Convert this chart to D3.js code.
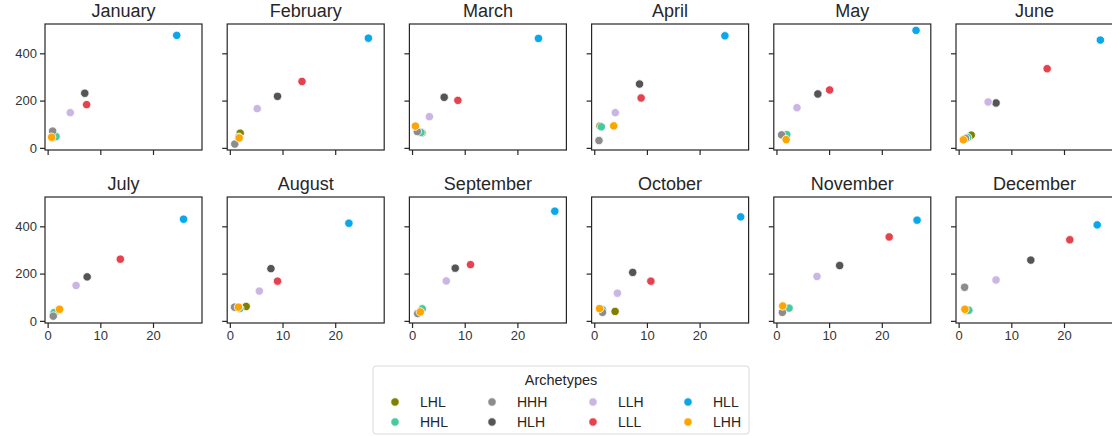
<!DOCTYPE html>
<html>
<head>
<meta charset="utf-8">
<script src="https://cdn.jsdelivr.net/npm/d3@7"></script>
<style>
  body { margin: 0; background: #fff; }
  svg { font-family: "Liberation Sans", Arial, sans-serif; }
</style>
</head>
<body>
<svg id="chart" width="1112" height="436"></svg>
<script>
var months = ["January", "February", "March", "April", "May", "June",
              "July", "August", "September", "October", "November", "December"];
var archetypes = ["LHL", "HHL", "HHH", "HLH", "LLH", "LLL", "HLL", "LHH"];
var colors = ["#808000", "#48c9a0", "#8c8c8c", "#555555", "#cbb6e3", "#e5424f", "#0aa7ea", "#ffa500"];
var x_ticks = [0, 10, 20];
var y_ticks = [0, 200, 400];

// [x, y] per month, one array per archetype
var lhl = [[1.2, 45], [1.96, 62], [1.9, 64], [1.1, 92], [1.9, 50], [2.4, 54],
           [1.5, 38], [3.1, 61], [1.8, 45], [3.96, 40], [1.5, 55], [1.5, 45]];
var hhl = [[1.6, 48], [1.7, 45], [1.7, 65], [1.35, 89], [1.97, 56], [1.7, 44],
           [1.2, 35], [1.9, 52], [1.95, 51], [1.57, 47], [2.4, 54], [1.94, 45]];
var hhh = [[0.95, 71], [0.94, 16], [1.0, 69], [0.9, 31], [0.97, 55], [1.3, 40],
           [1.07, 20], [0.9, 58], [1.07, 31], [1.57, 36], [1.13, 36], [1.13, 142]];
var hlh = [[7.05, 231], [9.05, 218], [6.1, 214], [8.6, 270], [7.86, 228], [7.1, 190],
           [7.5, 186], [7.8, 221], [8.2, 223], [7.3, 205], [12.0, 234], [13.7, 257]];
var llh = [[4.3, 149], [5.2, 166], [3.3, 132], [4.0, 149], [3.9, 170], [5.6, 194],
           [5.4, 150], [5.6, 126], [6.5, 169], [4.4, 117], [7.7, 188], [7.1, 173]];
var lll = [[7.4, 183], [13.7, 281], [8.7, 201], [8.9, 211], [10.1, 245], [16.8, 335],
           [13.8, 261], [9.05, 168], [11.1, 238], [10.75, 168], [21.4, 355], [21.1, 343]];
var hll = [[24.5, 476], [26.3, 464], [24.0, 463], [24.8, 474], [26.5, 497], [26.9, 456],
           [25.8, 430], [22.6, 413], [27.1, 464], [27.8, 440], [26.7, 426], [26.3, 406]];
var lhh = [[0.76, 45], [1.77, 42], [0.64, 92], [3.7, 93], [1.84, 35], [0.9, 34],
           [2.26, 49], [1.64, 58], [1.57, 38], [1.0, 52], [1.2, 63], [1.19, 49]];
var series = [lhl, hhl, hhh, hlh, llh, lll, hll, lhh];

var svg = d3.select("#chart");
var panel_w = 157, panel_h = 126, step_x = 182.2;
var lefts = d3.range(6).map(function (i) { return 45 + i * step_x; });
var tops = [24, 197];

var x = d3.scaleLinear().domain([-0.5, 29.3]).range([0, panel_w]);
var y = d3.scaleLinear().domain([-9, 524]).range([panel_h, 0]);

for (var m = 0; m < months.length; m++) {
  var col = m % 6, row = Math.floor(m / 6);
  var g = svg.append("g").attr("transform", "translate(" + lefts[col] + "," + tops[row] + ")");

  var xAxis = d3.axisBottom(x).tickValues(x_ticks).tickSize(5).tickPadding(3);
  if (row == 0) xAxis.tickFormat("");
  var yAxis = d3.axisLeft(y).tickValues(y_ticks).tickSize(5).tickPadding(3);
  if (col != 0) yAxis.tickFormat("");

  var gx = g.append("g").attr("transform", "translate(0," + panel_h + ")").call(xAxis);
  var gy = g.append("g").call(yAxis);
  [gx, gy].forEach(function (a) {
    a.select(".domain").remove();
    a.selectAll(".tick line").attr("stroke", "#262626").attr("stroke-width", 1.2);
    a.selectAll(".tick text").attr("fill", "#333").style("font-size", "13px");
  });

  g.append("rect").attr("width", panel_w).attr("height", panel_h)
    .attr("fill", "none").attr("stroke", "#262626").attr("stroke-width", 1.2);

  g.append("text").attr("x", panel_w / 2).attr("y", -7).attr("text-anchor", "middle")
    .attr("fill", "#262626").style("font-size", "18px").text(months[m]);

  for (var s = 0; s < series.length; s++) {
    var p = series[s][m];
    g.append("circle").attr("cx", x(p[0])).attr("cy", y(p[1])).attr("r", 4.2)
      .attr("fill", colors[s]).attr("stroke", "#fff").attr("stroke-width", 0.8);
  }
}

// legend
var lg = svg.append("g").attr("transform", "translate(373,366)");
lg.append("rect").attr("width", 376).attr("height", 68).attr("rx", 3)
  .attr("fill", "#fff").attr("stroke", "#d9d9d9");
lg.append("text").attr("x", 188).attr("y", 19).attr("text-anchor", "middle")
  .attr("fill", "#262626").style("font-size", "14.5px").text("Archetypes");
var col_x = [22, 119, 220, 315];
archetypes.forEach(function (a, i) {
  var cx = col_x[Math.floor(i / 2)], cy = 36 + (i % 2) * 20;
  lg.append("circle").attr("cx", cx).attr("cy", cy).attr("r", 4.2).attr("fill", colors[i])
    .attr("stroke", "#fff").attr("stroke-width", 0.8);
  lg.append("text").attr("x", cx + 25).attr("y", cy + 5).attr("fill", "#262626")
    .style("font-size", "14px").text(a);
});
</script>
</body>
</html>
